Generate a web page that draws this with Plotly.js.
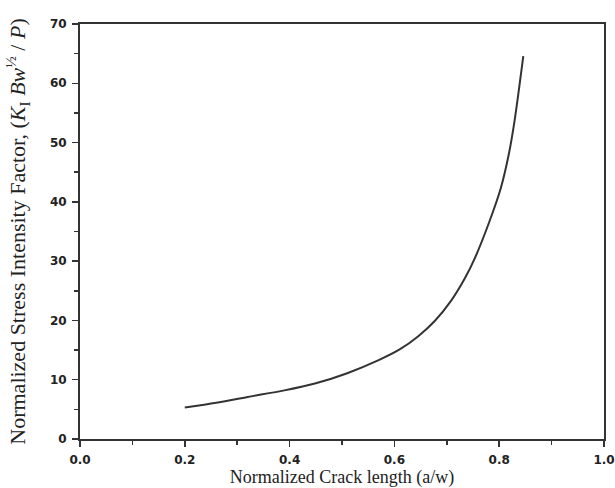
<!DOCTYPE html>
<html>
<head>
<meta charset="utf-8">
<script src="https://cdn.plot.ly/plotly-3.0.1.min.js"></script>
<style>html,body{margin:0;padding:0;background:#fff;}#chart{width:615px;height:488px;}</style>
</head>
<body>
<div id="chart"></div>
<script>
// Normalized crack length a/w
const crackLength = [0.20, 0.26, 0.32, 0.39, 0.45, 0.51, 0.57, 0.61, 0.645, 0.677, 0.708, 0.735, 0.754, 0.781, 0.803, 0.818, 0.829, 0.846];
// Normalized stress intensity factor
const stressFactor = [5.3, 6.1, 7.1, 8.2, 9.4, 11.1, 13.3, 15.1, 17.3, 19.9, 23.3, 27.2, 30.6, 36.6, 42.3, 47.9, 53.5, 64.6];
const xTickVals = [0, 0.2, 0.4, 0.6, 0.8, 1.0];
const xTickText = ['0.0', '0.2', '0.4', '0.6', '0.8', '1.0'];
const yTickVals = [0, 10, 20, 30, 40, 50, 60, 70];

const tickFont = {family: 'DejaVu Sans, Liberation Sans, sans-serif', size: 12, color: '#222', weight: 'bold'};
const titleFont = {family: 'Liberation Serif, Times New Roman, serif', size: 18, color: '#222'};

Plotly.newPlot('chart', [{
  x: crackLength,
  y: stressFactor,
  type: 'scatter',
  mode: 'lines',
  line: {color: '#333', width: 2, shape: 'spline', smoothing: 0.8},
  hoverinfo: 'skip'
}], {
  width: 615, height: 488,
  margin: {l: 80, r: 11, t: 24, b: 49},
  paper_bgcolor: '#fff', plot_bgcolor: '#fff',
  showlegend: false,
  xaxis: {
    range: [0, 1.0],
    tickvals: xTickVals, ticktext: xTickText,
    ticks: 'outside', ticklen: 6, tickwidth: 1.5, tickcolor: '#333',
    minor: {dtick: 0.1, ticks: 'outside', ticklen: 4, tickwidth: 1.5, tickcolor: '#333'},
    showgrid: false, zeroline: false,
    showline: true, linecolor: '#333', linewidth: 2, mirror: true,
    tickfont: tickFont, ticklabelstandoff: 3,
    title: {text: 'Normalized Crack length (a/w)', font: titleFont, standoff: 5}
  },
  yaxis: {
    range: [0, 70],
    tickvals: yTickVals,
    ticks: 'outside', ticklen: 6, tickwidth: 1.5, tickcolor: '#333',
    minor: {dtick: 5, ticks: 'outside', ticklen: 4, tickwidth: 1.5, tickcolor: '#333'},
    showgrid: false, zeroline: false,
    showline: true, linecolor: '#333', linewidth: 2, mirror: true,
    tickfont: tickFont, ticklabelstandoff: 3,
    title: {text: 'Normalized Stress Intensity Factor, (<i>K</i><sub>I</sub> <i>Bw</i><sup>½</sup> / <i>P</i>)', font: Object.assign({}, titleFont, {size: 22}), standoff: 18}
  }
}, {staticPlot: true});
</script>
</body>
</html>
